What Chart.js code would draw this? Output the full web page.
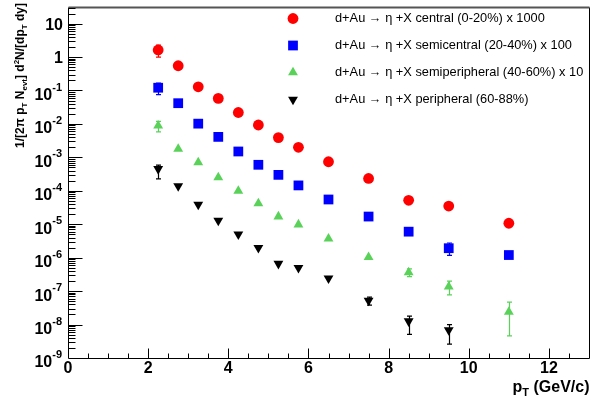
<!DOCTYPE html>
<html lang="en">
<head>
<meta charset="UTF-8">
<title>eta spectra d+Au</title>
<script src="https://cdn.jsdelivr.net/npm/chart.js"></script>
<style>
    body { margin: 0; padding: 0; background: #fff; }
    #plot { display: block; }
</style>
</head>
<body>
<canvas id="plot" width="607" height="402"></canvas>
<script>
// pT bin centres (GeV/c)
const ptBins = [2.25, 2.75, 3.25, 3.75, 4.25, 4.75, 5.25, 5.75, 6.5, 7.5, 8.5, 9.5, 11];

// invariant yields, already scaled as in the legend
const central = [1.63, 0.55, 0.129, 0.058, 0.022, 0.0093, 0.0039, 0.0020, 7.4e-4, 2.34e-4, 5.2e-5, 3.5e-5, 1.07e-5];
const semicentral = [0.121, 0.0417, 0.0102, 0.0041, 0.0015, 6.0e-4, 3.0e-4, 1.45e-4, 5.5e-5, 1.7e-5, 6.0e-6, 1.92e-6, 1.2e-6];
const semiperipheral = [0.0089, 0.0018, 7.1e-4, 2.5e-4, 9.9e-5, 4.2e-5, 1.7e-5, 9.8e-6, 3.7e-6, 1.04e-6, 3.6e-7, 1.35e-7, 2.4e-8];
const peripheral = [4.5e-4, 1.38e-4, 3.9e-5, 1.28e-5, 5.0e-6, 1.96e-6, 6.6e-7, 5.0e-7, 2.4e-7, 5.2e-8, 1.26e-8, 6.8e-9, null];

// error bar ends (null = hidden under the marker)
const centralLo = [0.99, null, null, null, null, null, null, null, null, null, null, null, null];
const centralHi = [2.27, null, null, null, null, null, null, null, null, null, null, null, null];
const semicentralLo = [0.075, null, null, null, null, null, null, null, null, null, null, 1.17e-6, null];
const semicentralHi = [0.167, null, null, null, null, null, null, null, null, null, null, 2.75e-6, null];
const semiperipheralLo = [0.0058, null, null, null, null, null, null, null, null, null, 2.7e-7, 7.7e-8, 4.6e-9];
const semiperipheralHi = [0.012, null, null, null, null, null, null, null, null, null, 4.6e-7, 2.0e-7, 4.7e-8];
const peripheralLo = [2.28e-4, null, null, null, null, null, null, null, null, 3.8e-8, 5.1e-9, 2.6e-9, null];
const peripheralHi = [5.9e-4, null, null, null, null, null, null, null, null, 6.6e-8, 1.8e-8, 1.0e-8, null];

const seriesLabels = [
    'd+Au \u2192 \u03b7 +X central (0-20%) x 1000',
    'd+Au \u2192 \u03b7 +X semicentral (20-40%) x 100',
    'd+Au \u2192 \u03b7 +X semiperipheral (40-60%) x 10',
    'd+Au \u2192 \u03b7 +X peripheral (60-88%)'
];
const xTickLabels = [0, 2, 4, 6, 8, 10, 12];

const FONT = '"Liberation Sans", Arial, Helvetica, sans-serif';

function points(vals, lo, hi) {
    const out = [];
    vals.forEach((v, i) => {
        if (v !== null) out.push({ x: ptBins[i], y: v, lo: lo[i], hi: hi[i] });
    });
    return out;
}

const styles = [
    { color: '#ff0000', pointStyle: 'circle', radius: 5.4, rotation: 0 },
    { color: '#0000ff', pointStyle: 'rect', radius: 6.9, rotation: 0 },
    { color: '#5ad25a', pointStyle: 'triangle', radius: 5.7, rotation: 0 },
    { color: '#000000', pointStyle: 'triangle', radius: 5.7, rotation: 180 }
];
const seriesData = [
    points(central, centralLo, centralHi),
    points(semicentral, semicentralLo, semicentralHi),
    points(semiperipheral, semiperipheralLo, semiperipheralHi),
    points(peripheral, peripheralLo, peripheralHi)
];

// error bars, drawn before the markers
const errorBars = {
    id: 'errorBars',
    beforeDatasetsDraw(chart) {
        const ctx = chart.ctx, xs = chart.scales.x, ys = chart.scales.y;
        ctx.save();
        ctx.lineWidth = 1.2;
        chart.data.datasets.forEach(ds => {
            ctx.strokeStyle = ds.borderColor;
            ds.data.forEach(p => {
                if (p.lo == null) return;
                const px = Math.round(xs.getPixelForValue(p.x)) + 0.5;
                const yl = ys.getPixelForValue(p.lo), yh = ys.getPixelForValue(p.hi);
                ctx.beginPath();
                ctx.moveTo(px, yl); ctx.lineTo(px, yh);
                ctx.moveTo(px - 2.5, yl); ctx.lineTo(px + 2.5, yl);
                ctx.moveTo(px - 2.5, yh); ctx.lineTo(px + 2.5, yh);
                ctx.stroke();
            });
        });
        ctx.restore();
    }
};

// ROOT-like frame, inward ticks, labels, titles and legend
const frame = {
    id: 'frame',
    afterDraw(chart) {
        const ctx = chart.ctx, xs = chart.scales.x, ys = chart.scales.y;
        const a = chart.chartArea;
        const L = Math.round(a.left) + 0.5, R = Math.round(a.right) + 0.5;
        const T = Math.round(a.top) + 0.5, B = Math.round(a.bottom) + 0.5;
        ctx.save();

        // frame
        ctx.strokeStyle = '#000';
        ctx.lineWidth = 1;
        ctx.beginPath();
        ctx.moveTo(L, B); ctx.lineTo(R, B); ctx.lineTo(R, T);
        ctx.moveTo(L, T); ctx.lineTo(L, B);
        ctx.stroke();
        ctx.strokeStyle = '#555';
        ctx.lineWidth = 2;
        ctx.beginPath();
        ctx.moveTo(L, T); ctx.lineTo(R, T);
        ctx.stroke();

        // x ticks (every 0.5, major every 2)
        ctx.strokeStyle = '#000';
        ctx.lineWidth = 1;
        ctx.beginPath();
        for (let v = 0.5; v < xs.max; v += 0.5) {
            const px = Math.round(xs.getPixelForValue(v)) + 0.5;
            const len = (v % 2 === 0) ? 10 : 5;
            ctx.moveTo(px, B); ctx.lineTo(px, B - len);
        }
        // y ticks (decades + 2..9)
        for (let e = -9; e <= 1; e++) {
            for (let m = 1; m <= 9; m++) {
                const v = m * Math.pow(10, e);
                if (v <= ys.min || v > ys.max) continue;
                const py = Math.round(ys.getPixelForValue(v)) + 0.5;
                const len = (m === 1) ? 14 : 7;
                ctx.moveTo(L, py); ctx.lineTo(L + len, py);
            }
        }
        ctx.stroke();

        // x tick labels
        ctx.fillStyle = '#000';
        ctx.font = 'bold 16px ' + FONT;
        ctx.textAlign = 'center';
        ctx.textBaseline = 'middle';
        xTickLabels.forEach(v => {
            ctx.fillText(String(v), xs.getPixelForValue(v), 369);
        });

        // y tick labels
        ctx.textAlign = 'right';
        const lx = 62;
        for (let e = -9; e <= 1; e++) {
            const py = ys.getPixelForValue(Math.pow(10, e));
            if (e === 1 || e === 0) {
                ctx.font = 'bold 16px ' + FONT;
                ctx.fillText(e === 1 ? '10' : '1', lx + 1, py + 1.5);
            } else {
                ctx.font = 'bold 11px ' + FONT;
                const ex = String(e);
                const w = ctx.measureText(ex).width;
                ctx.fillText(ex, lx, py - 3);
                ctx.font = 'bold 16px ' + FONT;
                ctx.fillText('10', lx - w, py + 5);
            }
        }

        // x title
        ctx.textBaseline = 'alphabetic';
        ctx.textAlign = 'left';
        ctx.font = 'bold 16px ' + FONT;
        const rest = ' (GeV/c)';
        const wRest = ctx.measureText(rest).width;
        const wp = ctx.measureText('p').width;
        ctx.font = 'bold 11px ' + FONT;
        const wT = ctx.measureText('T').width;
        let tx = R - wRest - wT - wp;
        ctx.font = 'bold 16px ' + FONT;
        ctx.fillText('p', tx, 392);
        ctx.font = 'bold 11px ' + FONT;
        ctx.fillText('T', tx + wp, 396);
        ctx.font = 'bold 16px ' + FONT;
        ctx.fillText(rest, tx + wp + wT, 392);

        // y title (rotated, segments with sub/superscripts)
        const segs = [
            ['1/[2\u03c0 p', 0], ['T', 1], [' N', 0], ['evt', 1], ['] d', 0], ['2', -1],
            ['N/[dp', 0], ['T', 1], [' dy]', 0]
        ];
        const fontFor = s => (s === 0 ? 'bold 12px ' : 'bold 8px ') + FONT;
        let total = 0;
        segs.forEach(([t, s]) => { ctx.font = fontFor(s); total += ctx.measureText(t).width; });
        ctx.translate(24, 3 + total);
        ctx.rotate(-Math.PI / 2);
        let cx = 0;
        segs.forEach(([t, s]) => {
            ctx.font = fontFor(s);
            const off = s === 1 ? 3 : (s === -1 ? -5 : 0);
            ctx.fillText(t, cx, off);
            cx += ctx.measureText(t).width;
        });
        ctx.setTransform(1, 0, 0, 1, 0, 0);

        // legend
        const rows = [18.5, 45.5, 72.5, 99.5];
        ctx.font = '12.8px ' + FONT;
        ctx.textBaseline = 'middle';
        ctx.textAlign = 'left';
        chart.data.datasets.forEach((ds, i) => {
            ctx.fillStyle = ds.backgroundColor;
            ctx.strokeStyle = ds.borderColor;
            ctx.lineWidth = 1;
            Chart.helpers.drawPoint(ctx, {
                pointStyle: ds.pointStyle, radius: ds.pointRadius, rotation: ds.rotation, borderWidth: 0
            }, 293, rows[i]);
            ctx.fillStyle = '#000';
            ctx.fillText(seriesLabels[i], 335, rows[i]);
        });
        ctx.restore();
    }
};

new Chart(document.getElementById('plot'), {
    type: 'scatter',
    data: {
        datasets: seriesData.map((d, i) => ({
            label: seriesLabels[i],
            data: d,
            pointStyle: styles[i].pointStyle,
            rotation: styles[i].rotation,
            pointRadius: styles[i].radius,
            pointHoverRadius: styles[i].radius,
            backgroundColor: styles[i].color,
            borderColor: styles[i].color,
            pointBorderWidth: 0,
            showLine: false
        }))
    },
    options: {
        responsive: false,
        devicePixelRatio: 1,
        animation: false,
        layout: { padding: { left: 68, right: 18, top: 3, bottom: 44 } },
        plugins: { legend: { display: false }, tooltip: { enabled: false } },
        scales: {
            x: { type: 'linear', min: 0, max: 13, display: false },
            y: { type: 'logarithmic', min: 1e-9, max: Math.pow(10, 1.5), display: false }
        }
    },
    plugins: [errorBars, frame]
});
</script>
</body>
</html>
